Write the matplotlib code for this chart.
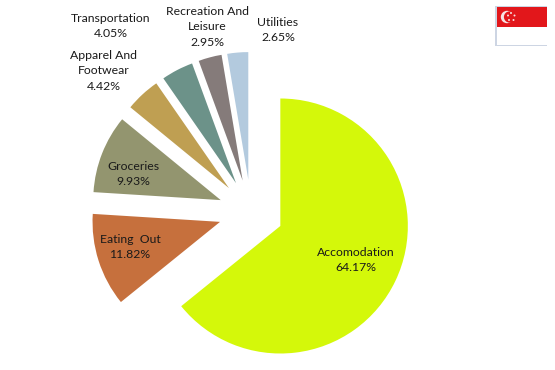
import matplotlib
matplotlib.use("Agg")
import matplotlib.pyplot as plt
from matplotlib.patches import Rectangle, Circle

W, H = 555, 370
categories = ["Accomodation", "Eating  Out", "Groceries", "Apparel And\nFootwear",
              "Transportation", "Recreation And\nLeisure", "Utilities"]
values = [64.17, 11.82, 9.93, 4.42, 4.05, 2.95, 2.65]
colors = ["#D4F80A", "#C6703D", "#93956F", "#BF9F52", "#6C9289", "#857B7A", "#B3CADE"]
label_pos = [(356, 260), (130, 247), (133, 174), (104, 71), (111, 26), (207, 27), (278, 30)]

plt.rcParams['font.family'] = ['Lato', 'DejaVu Sans']
fig = plt.figure(figsize=(W / 100, H / 100), dpi=100, facecolor="white")
ax = fig.add_axes([0, 0, 1, 1])

ax.pie(values, colors=colors, startangle=90, counterclock=False,
       center=(251, H - 212), radius=127.5, explode=[32.5] * len(values),
       wedgeprops=dict(linewidth=0))

ax.set_xlim(0, W)
ax.set_ylim(0, H)
ax.set_aspect("equal")
ax.axis("off")

for name, v, (x, y) in zip(categories, values, label_pos):
    ax.text(x, H - y, f"{name}\n{v:.2f}%", ha="center", va="center",
            fontsize=8.8, color="#1a1a1a", linespacing=1.52)

# Singapore flag, top right
ax.add_patch(Rectangle((495, H - 46), 52, 40, fc="#CDD5E3", ec="none"))
ax.add_patch(Rectangle((497, H - 45), 50, 38, fc="white", ec="none"))
ax.add_patch(Rectangle((497, H - 27), 50, 20, fc="#E2171B", ec="none"))
ax.add_patch(Circle((507, H - 17), 6.2, fc="#F6E4E4", ec="none"))
ax.add_patch(Circle((509.5, H - 17), 5.6, fc="#E2171B", ec="none"))
for sx, sy in [(511, 13), (514.5, 15.5), (513.5, 20), (509, 20), (508, 15.5)]:
    ax.add_patch(Circle((sx, H - sy), 1.0, fc="#F6DEDE", ec="none"))

fig.savefig("out.png", dpi=100, facecolor="white")
